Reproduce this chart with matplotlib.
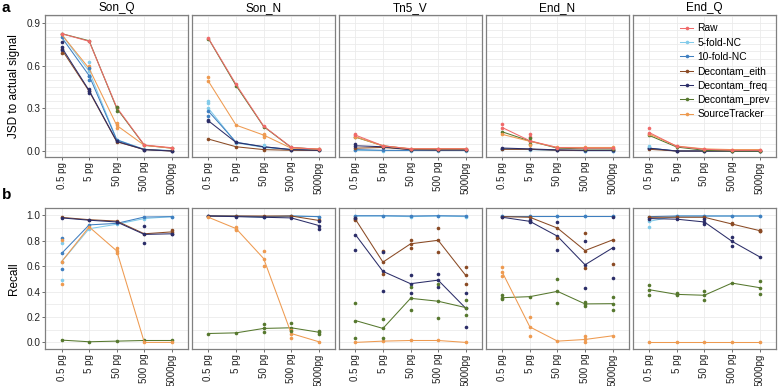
import numpy as np
import matplotlib
matplotlib.use('Agg')
import matplotlib.pyplot as plt

plt.rcParams['font.family'] = ['Liberation Sans', 'DejaVu Sans']

# categorias e metodos
doses = ['0.5 pg', '5 pg', '50 pg', '500 pg', '5000pg']
panels = ['Son_Q', 'Son_N', 'Tn5_V', 'End_N', 'End_Q']
methods = ['Raw', '5-fold-NC', '10-fold-NC', 'Decontam_eith',
           'Decontam_freq', 'Decontam_prev', 'SourceTracker']
colors = ['#F06A6A', '#82CBEA', '#3F7FC0', '#8A4A24',
          '#2B2D68', '#56782E', '#EE9A50']

# --- JSD (linha = media, pontos = replicatas) ---
jsd_son_q = {
    'Raw': [0.825, 0.771, 0.306, 0.042, 0.023],
    '5-fold-NC': [0.82, 0.56, 0.08, 0.012, 0.003],
    '10-fold-NC': [0.80, 0.53, 0.078, 0.01, 0.002],
    'Decontam_eith': [0.715, 0.42, 0.065, 0.01, 0.0],
    'Decontam_freq': [0.73, 0.425, 0.068, 0.01, 0.0],
    'Decontam_prev': [0.825, 0.775, 0.30, 0.04, 0.02],
    'SourceTracker': [0.82, 0.58, 0.18, 0.04, 0.02],
}
jsd_son_q_pts = [('Decontam_freq', 0, 0.765), ('Decontam_freq', 0, 0.711),
                 ('Decontam_eith', 0, 0.69), ('5-fold-NC', 1, 0.625),
                 ('SourceTracker', 1, 0.60), ('10-fold-NC', 1, 0.585),
                 ('10-fold-NC', 1, 0.53), ('10-fold-NC', 1, 0.497),
                 ('Decontam_freq', 1, 0.433), ('Decontam_freq', 1, 0.41),
                 ('Decontam_prev', 2, 0.31), ('Decontam_prev', 2, 0.282),
                 ('SourceTracker', 2, 0.194), ('SourceTracker', 2, 0.159)]

jsd_son_n = {
    'Raw': [0.792, 0.468, 0.175, 0.026, 0.012],
    '5-fold-NC': [0.30, 0.058, 0.025, 0.01, 0.005],
    '10-fold-NC': [0.28, 0.062, 0.03, 0.01, 0.005],
    'Decontam_eith': [0.084, 0.03, 0.01, 0.005, 0.005],
    'Decontam_freq': [0.212, 0.06, 0.03, 0.01, 0.005],
    'Decontam_prev': [0.79, 0.46, 0.172, 0.025, 0.012],
    'SourceTracker': [0.49, 0.182, 0.112, 0.02, 0.015],
}
jsd_son_n_pts = [('SourceTracker', 0, 0.52), ('5-fold-NC', 0, 0.35),
                 ('5-fold-NC', 0, 0.34), ('10-fold-NC', 0, 0.245),
                 ('Decontam_freq', 0, 0.22), ('SourceTracker', 2, 0.12),
                 ('SourceTracker', 2, 0.10), ('5-fold-NC', 2, 0.04)]

jsd_tn5_v = {
    'Raw': [0.112, 0.037, 0.015, 0.015, 0.015],
    '5-fold-NC': [0.005, 0.003, 0.003, 0.003, 0.003],
    '10-fold-NC': [0.01, 0.005, 0.004, 0.004, 0.004],
    'Decontam_eith': [0.02, 0.025, 0.01, 0.008, 0.008],
    'Decontam_freq': [0.037, 0.03, 0.01, 0.008, 0.008],
    'Decontam_prev': [0.098, 0.037, 0.014, 0.014, 0.014],
    'SourceTracker': [0.10, 0.035, 0.017, 0.017, 0.017],
}
jsd_tn5_v_pts = [('Decontam_freq', 0, 0.05), ('Raw', 0, 0.12)]

jsd_end_n = {
    'Raw': [0.165, 0.072, 0.024, 0.02, 0.02],
    '5-fold-NC': [0.015, 0.01, 0.005, 0.003, 0.003],
    '10-fold-NC': [0.015, 0.012, 0.005, 0.003, 0.003],
    'Decontam_eith': [0.012, 0.012, 0.006, 0.004, 0.004],
    'Decontam_freq': [0.021, 0.015, 0.008, 0.005, 0.005],
    'Decontam_prev': [0.135, 0.07, 0.02, 0.015, 0.015],
    'SourceTracker': [0.117, 0.068, 0.025, 0.025, 0.025],
}
jsd_end_n_pts = [('Raw', 0, 0.187), ('Raw', 1, 0.12), ('Raw', 1, 0.10),
                 ('Decontam_prev', 1, 0.09), ('Decontam_prev', 1, 0.05),
                 ('SourceTracker', 1, 0.04)]

jsd_end_q = {
    'Raw': [0.13, 0.033, 0.012, 0.005, 0.005],
    '5-fold-NC': [0.02, 0.0, 0.0, 0.0, 0.0],
    '10-fold-NC': [0.02, 0.0, 0.0, 0.0, 0.0],
    'Decontam_eith': [0.012, 0.0, 0.0, 0.0, 0.0],
    'Decontam_freq': [0.02, 0.0, 0.0, 0.0, 0.0],
    'Decontam_prev': [0.11, 0.028, 0.005, 0.0, 0.0],
    'SourceTracker': [0.12, 0.035, 0.015, 0.01, 0.01],
}
jsd_end_q_pts = [('Raw', 0, 0.159), ('5-fold-NC', 0, 0.037)]

# --- Recall ---
rec_son_q = {
    '5-fold-NC': [0.635, 0.895, 0.93, 0.975, 0.99],
    '10-fold-NC': [0.70, 0.925, 0.937, 0.987, 0.99],
    'Decontam_eith': [0.984, 0.966, 0.955, 0.855, 0.87],
    'Decontam_freq': [0.98, 0.962, 0.948, 0.85, 0.855],
    'Decontam_prev': [0.018, 0.005, 0.01, 0.015, 0.015],
    'SourceTracker': [0.635, 0.909, 0.72, 0.0, 0.0],
}
rec_son_q_pts = [('10-fold-NC', 0, 0.825), ('10-fold-NC', 0, 0.58),
                 ('5-fold-NC', 0, 0.78), ('5-fold-NC', 0, 0.49),
                 ('SourceTracker', 0, 0.81), ('SourceTracker', 0, 0.46),
                 ('SourceTracker', 2, 0.745), ('SourceTracker', 2, 0.70),
                 ('Decontam_freq', 3, 0.92), ('Decontam_freq', 3, 0.78),
                 ('Decontam_eith', 4, 0.885), ('Decontam_freq', 4, 0.85)]

rec_son_n = {
    '5-fold-NC': [0.995, 0.993, 0.985, 0.995, 0.99],
    '10-fold-NC': [0.997, 0.995, 0.99, 0.995, 0.99],
    'Decontam_eith': [0.995, 0.995, 0.995, 0.995, 0.96],
    'Decontam_freq': [0.995, 0.99, 0.985, 0.98, 0.92],
    'Decontam_prev': [0.07, 0.075, 0.11, 0.115, 0.08],
    'SourceTracker': [0.985, 0.896, 0.66, 0.07, 0.005],
}
rec_son_n_pts = [('SourceTracker', 1, 0.91), ('SourceTracker', 1, 0.885),
                 ('SourceTracker', 2, 0.718), ('SourceTracker', 2, 0.603),
                 ('SourceTracker', 3, 0.10), ('SourceTracker', 3, 0.036),
                 ('Decontam_prev', 2, 0.143), ('Decontam_prev', 2, 0.083),
                 ('Decontam_prev', 3, 0.149), ('Decontam_prev', 3, 0.089),
                 ('Decontam_prev', 4, 0.09), ('Decontam_prev', 4, 0.068),
                 ('Decontam_freq', 4, 0.955), ('Decontam_freq', 4, 0.89)]

rec_tn5_v = {
    '5-fold-NC': [0.995, 0.995, 0.99, 0.995, 0.99],
    '10-fold-NC': [0.997, 0.997, 0.995, 0.997, 0.995],
    'Decontam_eith': [0.97, 0.632, 0.776, 0.804, 0.527],
    'Decontam_freq': [0.849, 0.559, 0.462, 0.49, 0.269],
    'Decontam_prev': [0.172, 0.11, 0.347, 0.324, 0.274],
    'SourceTracker': [0.0, 0.01, 0.015, 0.015, 0.0],
}
rec_tn5_v_pts = [('Decontam_eith', 0, 0.98), ('Decontam_eith', 0, 0.96),
                 ('Decontam_eith', 1, 0.723), ('Decontam_eith', 1, 0.54),
                 ('Decontam_eith', 2, 0.81), ('Decontam_eith', 2, 0.745),
                 ('Decontam_eith', 3, 0.90), ('Decontam_eith', 3, 0.71),
                 ('Decontam_eith', 4, 0.596), ('Decontam_eith', 4, 0.46),
                 ('Decontam_freq', 0, 0.98), ('Decontam_freq', 0, 0.726),
                 ('Decontam_freq', 1, 0.71), ('Decontam_freq', 1, 0.405),
                 ('Decontam_freq', 2, 0.527), ('Decontam_freq', 2, 0.39),
                 ('Decontam_freq', 3, 0.54), ('Decontam_freq', 3, 0.44),
                 ('Decontam_freq', 4, 0.39), ('Decontam_freq', 4, 0.122),
                 ('Decontam_prev', 0, 0.313), ('Decontam_prev', 0, 0.036),
                 ('Decontam_prev', 1, 0.188), ('Decontam_prev', 1, 0.036),
                 ('Decontam_prev', 2, 0.436), ('Decontam_prev', 2, 0.256),
                 ('Decontam_prev', 3, 0.462), ('Decontam_prev', 3, 0.19),
                 ('Decontam_prev', 4, 0.334), ('Decontam_prev', 4, 0.214)]

rec_end_n = {
    '5-fold-NC': [0.995, 0.995, 0.995, 0.995, 0.995],
    '10-fold-NC': [0.997, 0.997, 0.997, 0.997, 0.997],
    'Decontam_eith': [0.99, 0.985, 0.90, 0.723, 0.807],
    'Decontam_freq': [0.985, 0.953, 0.836, 0.611, 0.744],
    'Decontam_prev': [0.352, 0.36, 0.402, 0.303, 0.305],
    'SourceTracker': [0.553, 0.122, 0.01, 0.023, 0.052],
}
rec_end_n_pts = [('Decontam_eith', 2, 0.82), ('Decontam_eith', 3, 0.862),
                 ('Decontam_eith', 3, 0.585), ('Decontam_eith', 4, 0.616),
                 ('Decontam_freq', 1, 0.96), ('Decontam_freq', 1, 0.945),
                 ('Decontam_freq', 2, 0.95), ('Decontam_freq', 2, 0.726),
                 ('Decontam_freq', 3, 0.796), ('Decontam_freq', 3, 0.426),
                 ('Decontam_freq', 4, 0.99), ('Decontam_freq', 4, 0.506),
                 ('Decontam_prev', 0, 0.373), ('Decontam_prev', 0, 0.34),
                 ('Decontam_prev', 2, 0.496), ('Decontam_prev', 2, 0.313),
                 ('Decontam_prev', 3, 0.32), ('Decontam_prev', 3, 0.29),
                 ('Decontam_prev', 4, 0.36), ('Decontam_prev', 4, 0.253),
                 ('SourceTracker', 0, 0.596), ('SourceTracker', 0, 0.522),
                 ('SourceTracker', 1, 0.196), ('SourceTracker', 1, 0.05),
                 ('SourceTracker', 3, 0.05), ('SourceTracker', 3, 0.0)]

rec_end_q = {
    '5-fold-NC': [0.953, 0.995, 0.995, 0.995, 0.995],
    '10-fold-NC': [0.99, 0.995, 0.995, 0.995, 0.995],
    'Decontam_eith': [0.985, 0.985, 0.985, 0.932, 0.88],
    'Decontam_freq': [0.975, 0.97, 0.948, 0.796, 0.674],
    'Decontam_prev': [0.415, 0.378, 0.371, 0.467, 0.431],
    'SourceTracker': [0.0, 0.0, 0.0, 0.0, 0.0],
}
rec_end_q_pts = [('5-fold-NC', 0, 0.909), ('Decontam_freq', 2, 0.97),
                 ('Decontam_freq', 2, 0.93), ('Decontam_freq', 3, 0.833),
                 ('Decontam_freq', 3, 0.762), ('Decontam_eith', 3, 0.94),
                 ('Decontam_eith', 4, 0.885), ('Decontam_eith', 4, 0.875),
                 ('Decontam_prev', 0, 0.455), ('Decontam_prev', 0, 0.376),
                 ('Decontam_prev', 1, 0.39), ('Decontam_prev', 1, 0.37),
                 ('Decontam_prev', 2, 0.405), ('Decontam_prev', 2, 0.335),
                 ('Decontam_prev', 4, 0.48), ('Decontam_prev', 4, 0.38)]

top_data = [(jsd_son_q, jsd_son_q_pts), (jsd_son_n, jsd_son_n_pts),
            (jsd_tn5_v, jsd_tn5_v_pts), (jsd_end_n, jsd_end_n_pts),
            (jsd_end_q, jsd_end_q_pts)]
bot_data = [(rec_son_q, rec_son_q_pts), (rec_son_n, rec_son_n_pts),
            (rec_tn5_v, rec_tn5_v_pts), (rec_end_n, rec_end_n_pts),
            (rec_end_q, rec_end_q_pts)]

W, H = 778, 386
fig = plt.figure(figsize=(W / 100, H / 100), dpi=100)

cor = dict(zip(methods, colors))
x = np.arange(1, 6)


def desenha(ax, dados, pts, ylim, grid_step, yticks):
    ax.set_xlim(0.4, 5.6)
    ax.set_ylim(*ylim)
    for g in np.arange(0, ylim[1], grid_step):
        ax.axhline(g, color='#EBEBEB', lw=0.6, zorder=0)
    for xi in x:
        ax.axvline(xi, color='#EBEBEB', lw=0.6, zorder=0)
    for m in methods:
        if m not in dados:
            continue
        # Raw fica por cima (como no original)
        z = 2.5 if m == 'Raw' else 2
        ax.plot(x, dados[m], color=cor[m], lw=0.75, marker='o', ms=2.6,
                mew=0, label=m, zorder=z)
    for m, i, v in pts:
        ax.plot(x[i], v, 'o', color=cor[m], ms=2.6, mew=0, zorder=3)
    ax.set_xticks(x)
    ax.set_xticklabels(doses, rotation=90, fontsize=7, color='#222222')
    ax.set_yticks(yticks)
    for s in ax.spines.values():
        s.set_color('#808080')
        s.set_linewidth(0.9)
    ax.tick_params(length=2.2, width=0.6, color='#555555', pad=1.2,
                   labelsize=7.2, labelcolor='#222222')
    ax.tick_params(axis='x', labelsize=7)


left0, pw, step = 45, 143.5, 146.9
for col in range(5):
    l = (left0 + col * step) / W
    # linha superior
    ax = fig.add_axes([l, 1 - 157 / H, pw / W, 142 / H])
    dados, pts = top_data[col]
    desenha(ax, dados, pts, (-0.042, 0.956), 0.05, [0.0, 0.3, 0.6, 0.9])
    ax.set_title(panels[col], fontsize=8.5, pad=3)
    if col == 0:
        ax.set_yticklabels(['0.0', '0.3', '0.6', '0.9'])
    else:
        ax.set_yticklabels([])
        ax.tick_params(axis='y', length=0)
    if col == 4:
        # legenda na ordem dos metodos
        hs, ls = ax.get_legend_handles_labels()
        leg = ax.legend(hs, ls, loc='upper right', bbox_to_anchor=(1.0, 0.985),
                        frameon=False, fontsize=7.4, handlelength=1.3,
                        handletextpad=0.4, labelspacing=0.42,
                        borderaxespad=0.2)

    # linha inferior
    ax2 = fig.add_axes([l, 1 - 349 / H, pw / W, 141 / H])
    dados, pts = bot_data[col]
    desenha(ax2, dados, pts, (-0.052, 1.058), 0.1,
            [0.0, 0.2, 0.4, 0.6, 0.8, 1.0])
    if col == 0:
        ax2.set_yticklabels(['0.0', '0.2', '0.4', '0.6', '0.8', '1.0'])
    else:
        ax2.set_yticklabels([])
        ax2.tick_params(axis='y', length=0)

fig.text(14 / W, 1 - 86 / H, 'JSD to actual signal', fontsize=8.5,
         rotation=90, ha='center', va='center')
fig.text(14 / W, 1 - 279 / H, 'Recall', fontsize=8.5,
         rotation=90, ha='center', va='center')
fig.text(2 / W, 1 - 8 / H, 'a', fontsize=11, fontweight='bold', va='center')
fig.text(2 / W, 1 - 195 / H, 'b', fontsize=11, fontweight='bold', va='center')

fig.savefig('out.png', dpi=100)
